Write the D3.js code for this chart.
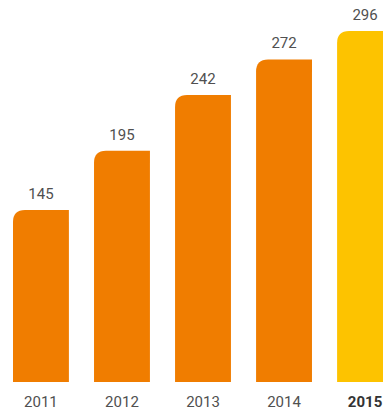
<!DOCTYPE html>
<html>
<head>
<meta charset="utf-8">
<script src="https://cdn.jsdelivr.net/npm/d3@7"></script>
<style>
  body { margin: 0; background: #fff; }
  svg { display: block; }
</style>
</head>
<body>
<div id="chart"></div>
<script>
var years = ['2011', '2012', '2013', '2014', '2015'];
var values = [145, 195, 242, 272, 296];
var highlight = '2015';

var width = 383, height = 412;
var base = 382;
var radius = 12;

var svg = d3.select('#chart').append('svg')
    .attr('width', width)
    .attr('height', height);

var x = d3.scaleBand()
    .domain(years)
    .range([13, 393])
    .paddingInner(0.31)
    .paddingOuter(0);

var y = d3.scaleLinear()
    .domain([0, 296])
    .range([base, 31]);

// bar with rounded top-left corner only
function barPath(d, i) {
    var x0 = x(years[i]), w = x.bandwidth();
    var top = y(d);
    return 'M' + x0 + ',' + base +
        'V' + (top + radius) +
        'Q' + x0 + ',' + top + ' ' + (x0 + radius) + ',' + top +
        'H' + (x0 + w) +
        'V' + base + 'Z';
}

svg.selectAll('path.bar')
    .data(values)
    .enter().append('path')
    .attr('class', 'bar')
    .attr('d', barPath)
    .attr('fill', (d, i) => years[i] == highlight ? '#FDC300' : '#F07D00');

svg.selectAll('text.val')
    .data(values)
    .enter().append('text')
    .attr('class', 'val')
    .attr('x', (d, i) => x(years[i]) + x.bandwidth() / 2)
    .attr('y', d => y(d) - 11)
    .attr('text-anchor', 'middle')
    .style('font-family', 'Roboto, sans-serif')
    .style('font-size', '15px')
    .attr('fill', '#505050')
    .text(d => d);

svg.selectAll('text.year')
    .data(years)
    .enter().append('text')
    .attr('class', 'year')
    .attr('x', d => x(d) + x.bandwidth() / 2)
    .attr('y', 407)
    .attr('text-anchor', 'middle')
    .style('font-family', 'Roboto, sans-serif')
    .style('font-size', '15px')
    .style('font-weight', d => d == highlight ? 'bold' : 'normal')
    .attr('fill', d => d == highlight ? '#333' : '#505050')
    .text(d => d);
</script>
</body>
</html>
